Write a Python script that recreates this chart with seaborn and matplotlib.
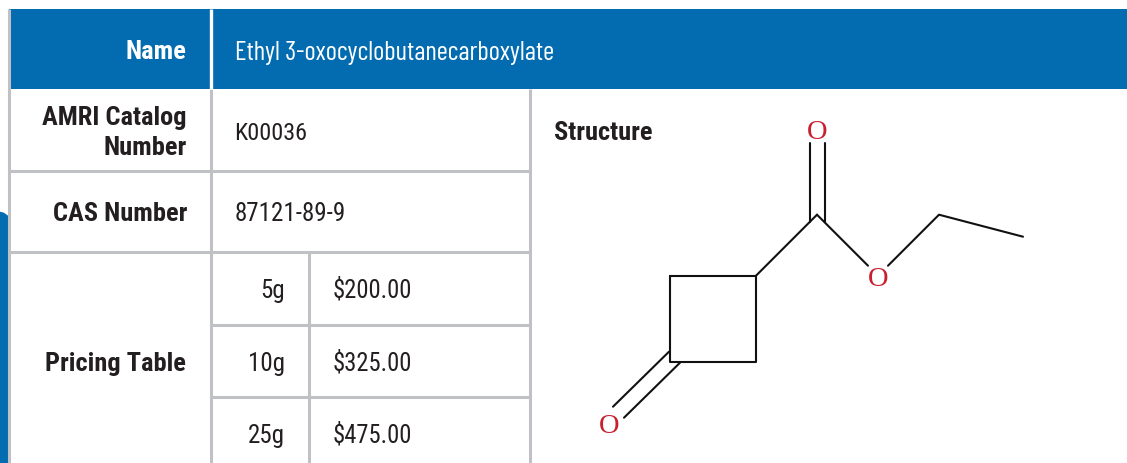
import pandas as pd
import matplotlib.pyplot as plt
from matplotlib.patches import Polygon, Rectangle
import seaborn as sns

# Table text
name_label = "Name"
compound_name = "Ethyl 3-oxocyclobutanecarboxylate"
catalog_label = "AMRI Catalog\nNumber"
catalog_number = "K00036"
cas_label = "CAS Number"
cas_number = "87121-89-9"
pricing_label = "Pricing Table"
structure_label = "Structure"
sizes = ["5g", "10g", "25g"]
prices = ["$200.00", "$325.00", "$475.00"]

# Molecule, in picture pixels
bond_x = [[670, 756, 756, 670, 670], [756, 817], [809.5, 809.5], [825, 825], [817, 868],
          [888, 939, 1023], [669, 613], [680, 624]]
bond_y = [[276, 276, 362, 362, 276], [276, 215], [222, 143], [222, 143], [215, 266],
          [266, 215, 237], [352, 407], [363, 418]]
oxygen_x = [817, 878, 609]
oxygen_y = [129, 276, 423]

BLUE = "#036cb1"
GREY = "#c0c1c4"
DARK = "#231f20"
RED = "#c8202f"

sns.set_theme(style="white")
plt.rcParams["font.family"] = ["Roboto Condensed", "DejaVu Sans"]

fig, ax = plt.subplots(figsize=(11.27, 4.64), dpi=100)
ax.set_position([0, 0, 1, 1])

# Blue shapes behind the table
ax.add_patch(Polygon([(0, 212), (4, 213), (8, 216), (8, 465), (0, 465)], color=BLUE, lw=0))
ax.add_patch(Rectangle((9, 9), 1118, 80, color=BLUE, lw=0))

# Grid lines
for x, y0, y1 in [(9, 9, 465), (211, 89, 465), (530, 89, 465), (309, 253, 465)]:
    ax.plot([x, x], [y0, y1], color=GREY, lw=2.2, solid_capstyle="butt", zorder=2)
for y, x0, x1 in [(171, 9, 531), (252.5, 9, 531), (325, 211, 531), (397.5, 211, 531)]:
    ax.plot([x0, x1], [y, y], color=GREY, lw=2.2, solid_capstyle="butt", zorder=2)
ax.plot([211, 211], [9, 89], color="white", lw=2.4, solid_capstyle="butt", zorder=3)

# Row headers
head = dict(fontsize=19, fontweight="bold", va="center", color=DARK)
ax.text(186, 51, name_label, ha="right", **{**head, "color": "white"})
ax.text(187, 132, catalog_label, ha="right", linespacing=1.3, **head)
ax.text(187, 213, cas_label, ha="right", **head)
ax.text(186, 363, pricing_label, ha="right", **head)
ax.text(554, 132, structure_label, ha="left", **head)

# Values
body = dict(fontsize=18, va="center", color=DARK)
ax.text(235, 52, compound_name, ha="left", family=["Barlow Condensed", "DejaVu Sans"],
        **{**body, "fontsize": 19.3, "color": "white"})
ax.text(234, 133, catalog_number, ha="left", **{**body, "fontsize": 17.5})
ax.text(235, 213, cas_number, ha="left", **body)
for size, price, y in zip(sizes, prices, [290, 363, 435]):
    ax.text(285, y, size, ha="right", **body)
    ax.text(333, y, price.replace("$", r"\$"), ha="left", **{**body, "fontsize": 17.7})

# Structure
bonds = pd.DataFrame(
    [(i, x, y) for i, (xs, ys) in enumerate(zip(bond_x, bond_y)) for x, y in zip(xs, ys)],
    columns=["bond", "x", "y"],
)
sns.lineplot(data=bonds, x="x", y="y", units="bond", estimator=None, sort=False,
             color="#111111", lw=1.5, ax=ax, legend=False)
for x, y in zip(oxygen_x, oxygen_y):
    ax.text(x, y, "O", color=RED, fontsize=20.5, ha="center", va="center_baseline",
            family="Liberation Serif")

ax.set_xlim(0, 1127)
ax.set_ylim(463.3, -0.7)
ax.axis("off")
fig.savefig("out.png", dpi=100)
